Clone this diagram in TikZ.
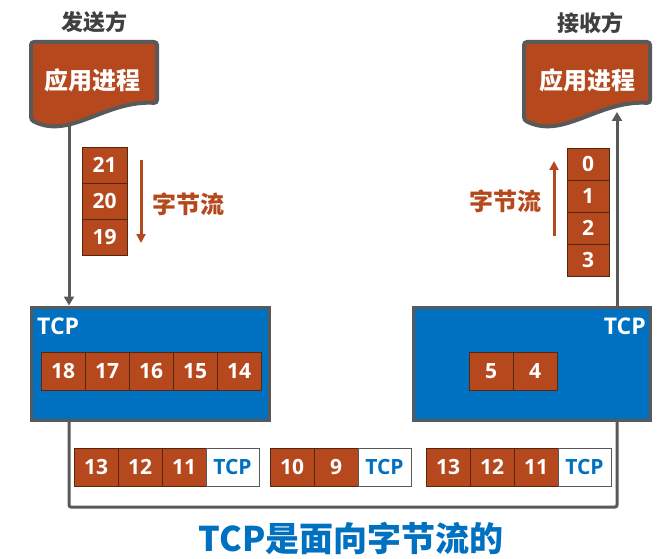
\documentclass[tikz,border=0pt]{standalone}
\usepackage{fontspec}
\setmainfont{Open Sans}
\newfontfamily\cjk{Noto Sans CJK SC}
\usetikzlibrary{positioning,arrows.meta}
\definecolor{bytebrown}{RGB}{181,72,28}
\definecolor{bytedark}{RGB}{85,38,16}
\definecolor{tcpblue}{RGB}{0,112,192}
\definecolor{linegray}{RGB}{89,89,89}
\definecolor{labelgray}{RGB}{64,64,64}
\tikzset{
    byte/.style={draw=bytedark,line width=0.8pt,fill=bytebrown,text=white,
        minimum width=44pt,minimum height=38pt,inner sep=0pt,outer sep=0pt,
        font=\fontsize{21}{24}\selectfont\bfseries},
    hdr/.style={byte,draw=linegray,fill=white,text=tcpblue,minimum width=53pt},
    sbyte/.style={byte,minimum width=45pt,minimum height=36pt},
    rbyte/.style={byte,minimum width=42pt,minimum height=32pt},
    layer/.style={draw=linegray,line width=3pt,fill=tcpblue,
        minimum width=238pt,minimum height=113pt},
    layername/.style={text=white,inner sep=0pt,font=\fontsize{23}{26}\selectfont\bfseries},
    doc/.style={draw=linegray,line width=4pt,fill=bytebrown,rounded corners=3pt},
    docname/.style={text=white,font=\cjk\bfseries\fontsize{24}{28}\selectfont},
    side/.style={text=labelgray,font=\cjk\bfseries\fontsize{22}{26}\selectfont},
    flow/.style={bytebrown,line width=3pt,-{Triangle[width=9pt,length=9pt]}},
    flowname/.style={text=bytebrown,font=\cjk\bfseries\fontsize{24}{28}\selectfont},
    pipe/.style={linegray,line width=3pt},
    pipetip/.style={pipe,-{Triangle[width=10pt,length=9pt]}},
}
\begin{document}
\begin{tikzpicture}[x=1pt,y=-1pt]
    \useasboundingbox (0,0) rectangle (667,559);

    \coordinate (sendout) at (69,124);
    \coordinate (recvin) at (617,112);
    \coordinate (loopl) at (69,507);
    \coordinate (loopr) at (617,507);

    \node[layer] (sendtcp) at (150,363.5) {};
    \node[layer,minimum width=237pt] (recvtcp) at (531.5,363.5) {};

    \draw[pipetip] (sendout) -- (sendout |- sendtcp.north);
    \draw[pipe,rounded corners=2pt] (sendtcp.south -| loopl) -- (loopl) -- (loopr) -- (recvtcp.south -| loopr);
    \draw[pipetip] (recvtcp.north -| recvin) -- (recvin);

    \path[doc] (31,42) -- (157,42) -- (157,103)
        .. controls (105,100) and (70,140) .. (31,120) -- cycle;
    \path[doc] (524,42) -- (650,42) -- (650,103)
        .. controls (598,100) and (563,140) .. (524,120) -- cycle;
    \node[docname] (sendproc) at (93,80) {应用进程};
    \node[docname] (recvproc) at (587,80) {应用进程};
    \node[side] (sender) at (94,22) {发送方};
    \node[side] (receiver) at (590,23) {接收方};

    \node[sbyte] (s21) at (104.5,165) {21};
    \node[sbyte,below=0pt of s21] (s20) {20};
    \node[sbyte,below=0pt of s20] (s19) {19};
    \coordinate (sflowa) at (141,160);
    \coordinate (sflowb) at (141,243);
    \draw[flow] (sflowa) -- (sflowb);
    \node[flowname] (sflow) at (188,204) {字节流};

    \node[rbyte] (r0) at (588,164) {0};
    \node[rbyte,below=0pt of r0] (r1) {1};
    \node[rbyte,below=0pt of r1] (r2) {2};
    \node[rbyte,below=0pt of r2] (r3) {3};
    \coordinate (rflowa) at (554,236);
    \coordinate (rflowb) at (554,161);
    \draw[flow] (rflowa) -- (rflowb);
    \node[flowname] (rflow) at (505,201) {字节流};

    \node[layername,anchor=west] (sendname) at (37,326) {TCP};
    \node[layername,anchor=east] (recvname) at (646,326) {TCP};

    \node[byte] (b18) at (63,371) {18};
    \node[byte,right=0pt of b18] (b17) {17};
    \node[byte,right=0pt of b17] (b16) {16};
    \node[byte,right=0pt of b16] (b15) {15};
    \node[byte,right=0pt of b15] (b14) {14};

    \node[byte] (b5) at (491,371) {5};
    \node[byte,right=0pt of b5] (b4) {4};

    \node[byte] (ga13) at (96,467) {13};
    \node[byte,right=0pt of ga13] (ga12) {12};
    \node[byte,right=0pt of ga12] (ga11) {11};
    \node[hdr,right=0pt of ga11] (gahdr) {TCP};

    \node[byte] (gb10) at (292,467) {10};
    \node[byte,right=0pt of gb10] (gb9) {9};
    \node[hdr,right=0pt of gb9] (gbhdr) {TCP};

    \node[byte] (gc13) at (448,467) {13};
    \node[byte,right=0pt of gc13] (gc12) {12};
    \node[byte,right=0pt of gc12] (gc11) {11};
    \node[hdr,right=0pt of gc11] (gchdr) {TCP};

    \node[text=tcpblue,font=\cjk\bfseries\fontsize{34}{40}\selectfont] (motto) at (351,538) {TCP是面向字节流的};
\end{tikzpicture}
\end{document}
